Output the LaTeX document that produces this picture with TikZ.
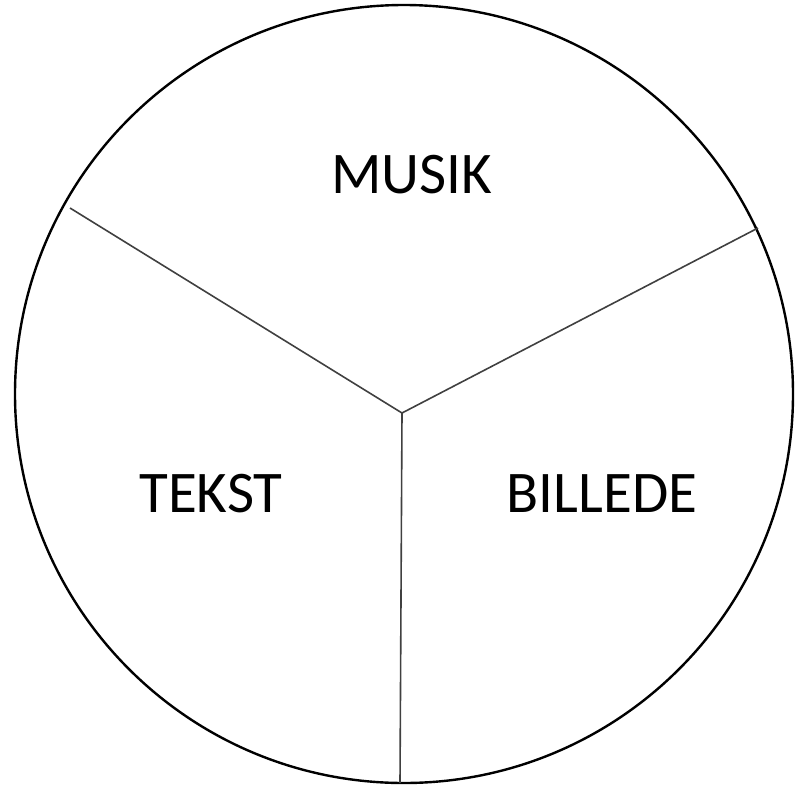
\documentclass[tikz,border=0pt]{standalone}
\usepackage{fontspec}
\setmainfont{Carlito}
\begin{document}
\begin{tikzpicture}[x=1pt,y=-1pt,
  rim/.style={line width=2.4pt,black},
  divider/.style={line width=1.6pt,black!75},
  label/.style={font=\fontsize{59}{62}\selectfont,inner sep=0pt,anchor=base,text=black}]
\useasboundingbox (0,0) rectangle (795,785);
\coordinate (c) at (404,394);
\draw[rim] (c) circle[radius=389];
\coordinate (m) at (402,413);
\coordinate (ul) at (70,208);
\coordinate (ur) at (758,228);
\coordinate (bt) at (400,783);
\draw[divider] (m) -- (ul);
\draw[divider] (m) -- (ur);
\draw[divider] (m) -- (bt);
\node[label] (musik) at (412,193) {MUSIK};
\node[label] (tekst) at (211,512) {TEKST};
\node[label] (billede) at (602,512) {BILLEDE};
\end{tikzpicture}
\end{document}
